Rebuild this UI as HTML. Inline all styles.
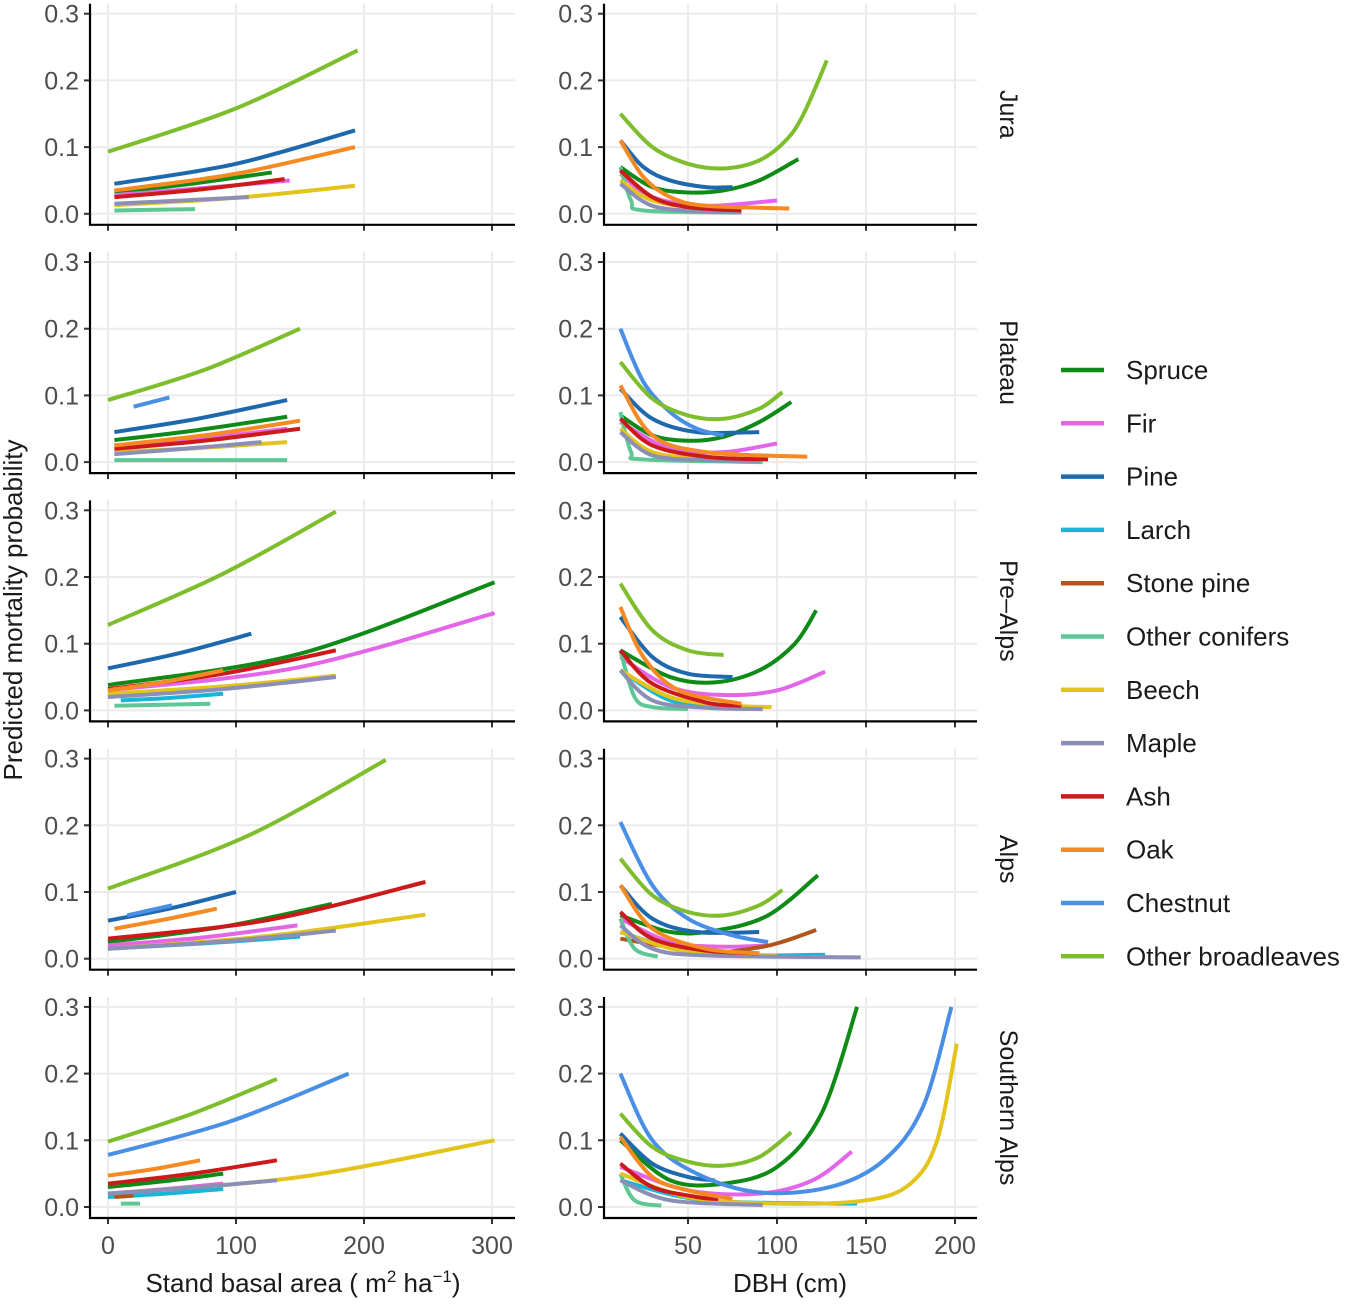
<!DOCTYPE html>
<html><head><meta charset="utf-8"><style>
body{margin:0;background:#fff;}
svg text{font-family:"Liberation Sans",Arial,sans-serif;}
</style></head><body>
<svg id="c" width="1355" height="1303" xmlns="http://www.w3.org/2000/svg"></svg>
<script>
const regions = ["Jura","Plateau","Pre\u2013Alps","Alps","Southern Alps"];
const species = ["Spruce","Fir","Pine","Larch","Stone pine","Other conifers","Beech","Maple","Ash","Oak","Chestnut","Other broadleaves"];
const speciesColors = ["#0e8a16","#e466e8","#1e69ad","#17b6d8","#b0561c","#5fc796","#e3c41c","#8b8fb8","#cc1919","#f68a22","#4a8fe6","#7ebe2c"];
const yTicks = [0,0.1,0.2,0.3];
const yTickLabels = ["0.0","0.1","0.2","0.3"];
const basalTicks = [0,100,200,300];
const dbhTicks = [50,100,150,200];

const basalJura = [
 ["Spruce",[5,65,128],[0.032,0.045,0.062]],
 ["Fir",[5,70,142],[0.028,0.038,0.05]],
 ["Pine",[5,100,193],[0.045,0.075,0.125]],
 ["Other conifers",[5,68],[0.005,0.007]],
 ["Beech",[5,100,193],[0.013,0.024,0.042]],
 ["Maple",[5,110],[0.015,0.025]],
 ["Ash",[5,70,138],[0.025,0.036,0.052]],
 ["Oak",[5,100,193],[0.035,0.06,0.10]],
 ["Other broadleaves",[0,100,195],[0.093,0.158,0.245]]];
const basalPlateau = [
 ["Spruce",[5,70,140],[0.033,0.048,0.068]],
 ["Fir",[5,70,140],[0.025,0.035,0.05]],
 ["Pine",[5,70,140],[0.045,0.065,0.093]],
 ["Other conifers",[5,140],[0.003,0.003]],
 ["Beech",[5,70,140],[0.015,0.021,0.03]],
 ["Maple",[5,60,120],[0.012,0.02,0.03]],
 ["Ash",[5,75,150],[0.02,0.032,0.05]],
 ["Oak",[5,75,150],[0.025,0.04,0.062]],
 ["Chestnut",[20,48],[0.083,0.097]],
 ["Other broadleaves",[0,75,150],[0.093,0.138,0.2]]];
const basalPreAlps = [
 ["Spruce",[0,150,302],[0.038,0.085,0.192]],
 ["Fir",[0,150,302],[0.03,0.065,0.146]],
 ["Pine",[0,56,112],[0.063,0.086,0.115]],
 ["Larch",[10,50,90],[0.015,0.019,0.025]],
 ["Other conifers",[5,80],[0.007,0.01]],
 ["Beech",[0,90,178],[0.025,0.036,0.052]],
 ["Maple",[0,90,178],[0.02,0.032,0.05]],
 ["Ash",[0,90,178],[0.032,0.055,0.09]],
 ["Oak",[0,45,90],[0.03,0.043,0.06]],
 ["Other broadleaves",[0,90,178],[0.128,0.205,0.298]]];
const basalAlps = [
 ["Spruce",[0,90,175],[0.025,0.048,0.082]],
 ["Fir",[0,75,148],[0.02,0.032,0.05]],
 ["Pine",[0,50,100],[0.057,0.076,0.1]],
 ["Larch",[0,75,150],[0.015,0.023,0.033]],
 ["Beech",[0,125,248],[0.015,0.034,0.066]],
 ["Maple",[0,90,178],[0.015,0.026,0.042]],
 ["Ash",[0,125,248],[0.03,0.058,0.115]],
 ["Oak",[5,45,85],[0.045,0.059,0.075]],
 ["Chestnut",[15,50],[0.065,0.08]],
 ["Other broadleaves",[0,110,217],[0.105,0.185,0.298]]];
const basalSouth = [
 ["Spruce",[0,45,90],[0.03,0.039,0.05]],
 ["Fir",[0,45,90],[0.02,0.027,0.035]],
 ["Larch",[0,45,90],[0.015,0.02,0.027]],
 ["Stone pine",[5,20],[0.015,0.017]],
 ["Other conifers",[10,25],[0.005,0.005]],
 ["Beech",[0,150,302],[0.02,0.045,0.1]],
 ["Maple",[0,66,132],[0.02,0.029,0.04]],
 ["Ash",[0,66,132],[0.035,0.05,0.07]],
 ["Oak",[0,36,72],[0.047,0.057,0.07]],
 ["Chestnut",[0,95,188],[0.078,0.128,0.2]],
 ["Other broadleaves",[0,66,132],[0.098,0.14,0.192]]];

const dbhJura = [
 ["Spruce",[12,30,50,70,90,112],[0.07,0.04,0.032,0.035,0.05,0.082]],
 ["Fir",[12,30,60,100],[0.06,0.025,0.012,0.02]],
 ["Pine",[12,25,40,60,75],[0.11,0.07,0.05,0.04,0.04]],
 ["Other conifers",[12,18,25,80],[0.07,0.02,0.005,0.002]],
 ["Beech",[12,30,60,80],[0.05,0.02,0.008,0.005]],
 ["Maple",[12,30,60,80],[0.045,0.012,0.003,0.002]],
 ["Ash",[12,30,50,80],[0.065,0.025,0.01,0.005]],
 ["Oak",[12,25,40,60,107],[0.11,0.055,0.025,0.012,0.008]],
 ["Other broadleaves",[12,30,50,70,90,105,115,128],[0.15,0.1,0.075,0.068,0.08,0.11,0.15,0.23]]];
const dbhPlateau = [
 ["Spruce",[12,30,50,70,90,108],[0.07,0.04,0.032,0.038,0.06,0.09]],
 ["Fir",[12,40,70,100],[0.06,0.02,0.015,0.028]],
 ["Pine",[12,30,55,90],[0.11,0.065,0.045,0.045]],
 ["Other conifers",[12,18,25,92],[0.075,0.015,0.004,0.0]],
 ["Beech",[12,30,60,90],[0.05,0.015,0.005,0.003]],
 ["Maple",[12,30,60,90],[0.045,0.01,0.003,0.002]],
 ["Ash",[12,30,60,95],[0.065,0.025,0.008,0.004]],
 ["Oak",[12,30,60,117],[0.115,0.04,0.015,0.008]],
 ["Chestnut",[12,25,40,55,70],[0.2,0.12,0.075,0.05,0.04]],
 ["Other broadleaves",[12,30,50,70,90,103],[0.15,0.095,0.07,0.065,0.08,0.105]]];
const dbhPreAlps = [
 ["Spruce",[12,40,65,90,110,122],[0.09,0.05,0.042,0.06,0.1,0.15]],
 ["Fir",[12,40,70,100,127],[0.08,0.035,0.023,0.03,0.058]],
 ["Pine",[12,30,50,75],[0.14,0.08,0.055,0.05]],
 ["Larch",[12,40,70],[0.06,0.015,0.005]],
 ["Other conifers",[12,20,30,50],[0.09,0.02,0.005,0.002]],
 ["Beech",[12,40,70,97],[0.06,0.02,0.008,0.005]],
 ["Maple",[12,30,60,92],[0.06,0.015,0.004,0.002]],
 ["Ash",[12,30,60,80],[0.09,0.04,0.012,0.007]],
 ["Oak",[12,25,45,80],[0.155,0.08,0.03,0.01]],
 ["Other broadleaves",[12,30,50,70],[0.19,0.12,0.09,0.083]]];
const dbhAlps = [
 ["Spruce",[12,40,65,95,123],[0.065,0.04,0.042,0.065,0.125]],
 ["Fir",[12,40,70,95],[0.06,0.025,0.018,0.02]],
 ["Pine",[12,30,55,90],[0.11,0.06,0.04,0.04]],
 ["Larch",[12,50,90,127],[0.04,0.01,0.005,0.006]],
 ["Stone pine",[12,60,90,105,122],[0.03,0.01,0.017,0.027,0.043]],
 ["Other conifers",[12,20,33],[0.06,0.015,0.003]],
 ["Beech",[12,50,100],[0.04,0.01,0.005]],
 ["Maple",[12,30,60,147],[0.05,0.015,0.005,0.002]],
 ["Ash",[12,30,60,90],[0.07,0.03,0.012,0.008]],
 ["Oak",[12,30,60,90],[0.11,0.045,0.015,0.008]],
 ["Chestnut",[12,30,50,75,95],[0.205,0.11,0.06,0.035,0.025]],
 ["Other broadleaves",[12,30,50,70,90,103],[0.15,0.095,0.07,0.065,0.08,0.103]]];
const dbhSouth = [
 ["Spruce",[12,40,70,100,125,145],[0.1,0.04,0.035,0.06,0.14,0.3]],
 ["Fir",[12,50,90,120,142],[0.06,0.025,0.02,0.04,0.083]],
 ["Pine",[12,30,50,65],[0.11,0.065,0.045,0.04]],
 ["Larch",[12,60,145],[0.04,0.01,0.005]],
 ["Other conifers",[12,20,35],[0.05,0.01,0.002]],
 ["Beech",[12,50,100,150,175,190,201],[0.05,0.015,0.005,0.01,0.035,0.1,0.245]],
 ["Maple",[12,40,92],[0.04,0.01,0.003]],
 ["Ash",[12,30,55,67],[0.065,0.03,0.015,0.012]],
 ["Oak",[12,30,50,75],[0.105,0.045,0.025,0.012]],
 ["Chestnut",[12,30,55,90,130,160,182,198],[0.2,0.1,0.05,0.022,0.03,0.07,0.15,0.3]],
 ["Other broadleaves",[12,30,50,70,90,108],[0.14,0.09,0.068,0.062,0.075,0.112]]];

const basalData=[basalJura,basalPlateau,basalPreAlps,basalAlps,basalSouth];
const dbhData=[dbhJura,dbhPlateau,dbhPreAlps,dbhAlps,dbhSouth];

const svg=document.getElementById('c');
const NS="http://www.w3.org/2000/svg";
function mk(tag,attrs,parent){const e=document.createElementNS(NS,tag);for(const k in attrs)e.setAttribute(k,attrs[k]);(parent||svg).appendChild(e);return e;}
const xBasal=v=>108+v*1.28;
const xDbh=v=>688+(v-50)*1.78;
const ROWH=248.3;
const yScale=(r,v)=>1207-(4-r)*ROWH - v*667;
function spline(pts){
 if(pts.length<2)return"";
 let d="M"+pts[0][0]+","+pts[0][1];
 for(let i=0;i<pts.length-1;i++){
  const p0=pts[i-1]||pts[i],p1=pts[i],p2=pts[i+1],p3=pts[i+2]||p2;
  const c1=[p1[0]+(p2[0]-p0[0])/6,p1[1]+(p2[1]-p0[1])/6];
  const c2=[p2[0]-(p3[0]-p1[0])/6,p2[1]-(p3[1]-p1[1])/6];
  d+=" C"+c1[0]+","+c1[1]+" "+c2[0]+","+c2[1]+" "+p2[0]+","+p2[1];
 }
 return d;
}
function panel(r,side){
 const left=side===0?90:604, right=side===0?515:977;
 const bottom=yScale(r,0)+11, top=bottom-221;
 const g=mk('g',{});
 
 
 const xs=side===0?basalTicks:dbhTicks, xf=side===0?xBasal:xDbh;
 yTicks.forEach((t,i)=>{
  const y=yScale(r,t);
  const gl=mk('line',{x1:left,x2:right,y1:y,y2:y,stroke:'#ebebeb','stroke-width':2},g);
  
  const tk=mk('line',{x1:left-6,x2:left,y1:y,y2:y,stroke:'#333','stroke-width':2},g);
  
  const tx=mk('text',{x:left-11,y:y+9,'text-anchor':'end','font-size':25,fill:'#4d4d4d'},g);
  tx.textContent=yTickLabels[i];
  
 });
 xs.forEach(t=>{
  const x=xf(t);
  const gl=mk('line',{x1:x,x2:x,y1:top,y2:bottom,stroke:'#ebebeb','stroke-width':2},g);
  
  const tk=mk('line',{x1:x,x2:x,y1:bottom,y2:bottom+6,stroke:'#333','stroke-width':2},g);
  
  if(r===4){
   const tx=mk('text',{x:x,y:1254,'text-anchor':'middle','font-size':25,fill:'#4d4d4d'},g);
   tx.textContent=String(t);
   
  }
 });
 const data=side===0?basalData[r]:dbhData[r];
 species.forEach((sp,si)=>{
  data.forEach(s=>{
   if(s[0]!==sp)return;
   const pts=s[1].map((xv,i)=>[xf(xv),yScale(r,s[2][i])]);
   const p=mk('path',{d:spline(pts),fill:'none',stroke:speciesColors[si],'stroke-width':4},g);
   
   
  });
 });
 const ax=mk('path',{d:`M${left},${top} L${left},${bottom} L${right},${bottom}`,fill:'none',stroke:'#000','stroke-width':2.2},g);
 
 if(side===1){
  const cy=(top+bottom)/2;
  const st=mk('text',{x:1000,y:cy,'text-anchor':'middle','font-size':25,fill:'#1a1a1a',transform:`rotate(90 1000 ${cy})`},g);
  st.textContent=regions[r];
  
 }
}
for(let r=0;r<5;r++){panel(r,0);panel(r,1);}
let t=mk('text',{x:303,y:1292,'text-anchor':'middle','font-size':26,fill:'#1a1a1a'});
t.innerHTML='Stand basal area ( m<tspan dy="-10" font-size="17">2</tspan><tspan dy="10"> ha</tspan><tspan dy="-10" font-size="17">\u22121</tspan><tspan dy="10">)</tspan>';

t=mk('text',{x:790,y:1292,'text-anchor':'middle','font-size':26,fill:'#1a1a1a'});t.textContent='DBH (cm)';

t=mk('text',{x:22,y:610,'text-anchor':'middle','font-size':26,fill:'#1a1a1a',transform:'rotate(-90 22 610)'});t.textContent='Predicted mortality probability';

species.forEach((sp,i)=>{
 const y=370+i*53.3;
 const g=mk('g',{});
 
 mk('line',{x1:1061,x2:1104,y1:y,y2:y,stroke:speciesColors[i],'stroke-width':4.5},g);
 const tx=mk('text',{x:1126,y:y+9,'font-size':26,fill:'#1a1a1a'},g);tx.textContent=sp;
});
</script>
</body></html>
